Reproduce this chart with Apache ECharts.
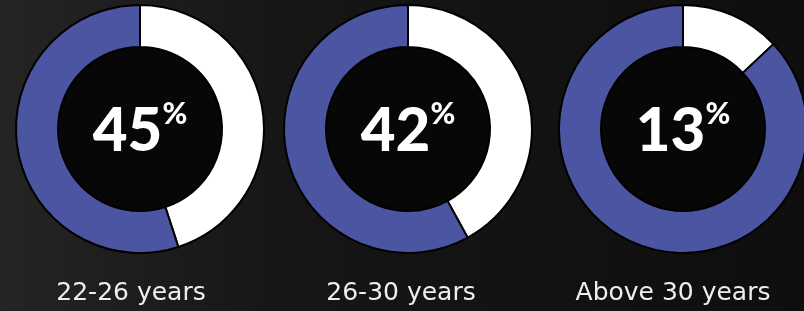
<!DOCTYPE html>
<html>
<head>
<meta charset="utf-8">
<script src="https://cdn.jsdelivr.net/npm/echarts@6/dist/echarts.min.js"></script>
<style>
    html, body { margin: 0; padding: 0; background: #111; }
    #main { width: 804px; height: 311px; }
</style>
</head>
<body>
<div id="main"></div>
<script>
// age groups and their share
var groups = ['22-26 years', '26-30 years', 'Above 30 years'];
var shares = [45, 42, 13];

var centersX = [140, 408, 683];
var labelsX = [131, 401, 673];

var myChart = echarts.init(document.getElementById('main'));

var series = [];
var graphics = [];

groups.forEach(function (name, i) {
    // dark disc in the hole
    series.push({
        type: 'pie',
        center: [centersX[i], 129],
        radius: [0, 82],
        silent: true,
        label: { show: false },
        labelLine: { show: false },
        data: [{ value: 1, name: 'hole', itemStyle: { color: '#070707' } }]
    });

    series.push({
        type: 'pie',
        center: [centersX[i], 129],
        radius: [82, 124],
        startAngle: 90,
        silent: true,
        avoidLabelOverlap: false,
        labelLine: { show: false },
        itemStyle: {
            borderColor: '#000',
            borderWidth: 2
        },
        data: [{
            value: shares[i],
            name: name,
            itemStyle: { color: '#ffffff' },
            label: {
                show: true,
                position: 'center',
                formatter: '{a|' + shares[i] + '}{b|%}',
                rich: {
                    a: {
                        color: '#fff',
                        fontFamily: 'Lato',
                        fontWeight: 900,
                        fontSize: 60,
                        lineHeight: 60,
                        padding: [6, 0, 0, 0]
                    },
                    b: {
                        color: '#fff',
                        fontFamily: 'Lato',
                        fontWeight: 900,
                        fontSize: 30,
                        lineHeight: 60,
                        verticalAlign: 'top',
                        padding: [0, 0, 20, 0]
                    }
                }
            }
        }, {
            value: 100 - shares[i],
            name: 'rest',
            itemStyle: { color: '#4c55a2' },
            label: { show: false }
        }]
    });

    graphics.push({
        type: 'text',
        x: labelsX[i],
        y: 293,
        style: {
            text: name,
            fill: '#eeeeee',
            font: '25px "DejaVu Sans"',
            align: 'center',
            verticalAlign: 'middle'
        }
    });
});

var option = {
    backgroundColor: {
        type: 'linear',
        x: 0, y: 0, x2: 1, y2: 0,
        colorStops: [
            { offset: 0, color: '#242424' },
            { offset: 0.35, color: '#161616' },
            { offset: 1, color: '#0e0e0e' }
        ]
    },
    animation: false,
    series: series,
    graphic: graphics
};

myChart.setOption(option);
</script>
</body>
</html>
